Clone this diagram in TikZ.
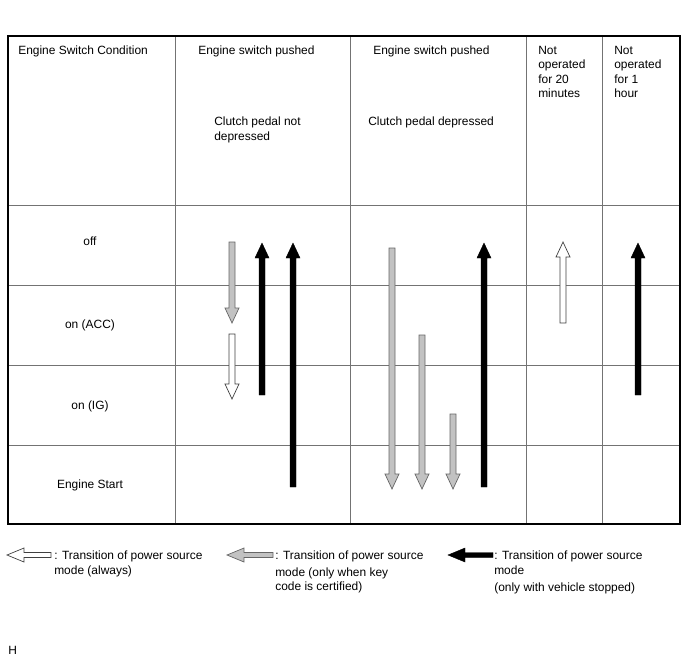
\documentclass[tikz,border=0pt]{standalone}
\usepackage{fontspec}
\setmainfont{Liberation Sans}
\usetikzlibrary{calc}
\definecolor{tablegray}{gray}{0.45}
\definecolor{keygray}{gray}{0.76}
\definecolor{keyedge}{gray}{0.40}

% vertical block arrow: style, x, y of tail, y of tip
\newcommand{\modearrow}[4]{%
  \pgfmathsetmacro{\hb}{#4-15*sign(#4-#3)}
  \draw[#1] (#2-3,#3) -- (#2-3,\hb) -- (#2-7,\hb) -- (#2,#4) -- (#2+7,\hb)
    -- (#2+3,\hb) -- (#2+3,#3) -- cycle;}
% horizontal block arrow for the key: style, y, x of tail, x of tip
\newcommand{\keyarrow}[4]{%
  \pgfmathsetmacro{\hb}{#4-17*sign(#4-#3)}
  \draw[#1] (#3,#2-2.5) -- (\hb,#2-2.5) -- (\hb,#2-7) -- (#4,#2) -- (\hb,#2+7)
    -- (\hb,#2+2.5) -- (#3,#2+2.5) -- cycle;}

\begin{document}
\begin{tikzpicture}[x=0.025cm,y=-0.025cm,
  txt/.style={font=\fontsize{8.5}{10.4}\selectfont,inner sep=0pt,align=left},
  always/.style={draw=black!75,fill=white,line width=0.5pt},
  keycode/.style={draw=keyedge,fill=keygray,line width=0.5pt},
  stopped/.style={draw=black,fill=black,line width=0.3pt}]
  \useasboundingbox (0,0) rectangle (688,658);

  % table
  \foreach \xx in {175,350,526,602}
    \draw[tablegray,line width=0.6pt] (\xx,36) -- (\xx,524);
  \foreach \yy in {205,285,365,445}
    \draw[tablegray,line width=0.6pt] (8,\yy) -- (680,\yy);
  \draw[black,line width=1.2pt] (8,36) rectangle (680,524);

  % headings
  \node[txt,anchor=base west] (hdcond) at (18,54) {Engine Switch Condition};
  \node[txt,anchor=base west] (hdpushA) at (198,54) {Engine switch pushed};
  \node[txt,anchor=north west] (clutchA) at (214,116.5) {Clutch pedal not\\depressed};
  \node[txt,anchor=base west] (hdpushB) at (373,54) {Engine switch pushed};
  \node[txt,anchor=base west] (clutchB) at (368,125) {Clutch pedal depressed};
  \node[txt,anchor=north west] (idle20) at (538,45.5) {Not\\operated\\for 20\\minutes};
  \node[txt,anchor=north west] (idle60) at (614,45.5) {Not\\operated\\for 1\\hour};

  % conditions
  \node[txt,anchor=base] (off) at (90,245) {off};
  \node[txt,anchor=base] (acc) at (90,328) {on (ACC)};
  \node[txt,anchor=base] (ign) at (90,409) {on (IG)};
  \node[txt,anchor=base] (start) at (90,488) {Engine Start};

  % transitions, clutch pedal not depressed
  \modearrow{keycode}{232}{242}{323}
  \modearrow{always}{232}{334}{399}
  \modearrow{stopped}{262}{395}{243}
  \modearrow{stopped}{293}{487}{243}
  % transitions, clutch pedal depressed
  \modearrow{keycode}{392}{248}{489}
  \modearrow{keycode}{422}{335}{489}
  \modearrow{keycode}{453}{414}{489}
  \modearrow{stopped}{484}{487}{243}
  % not operated
  \modearrow{always}{563}{323}{242}
  \modearrow{stopped}{638}{395}{243}

  % key
  \keyarrow{always}{555}{51}{7}
  \node[txt,anchor=north west] (keyA) at (54,550.5) {: Transition of power source\\mode (always)};
  \keyarrow{keycode}{555}{273}{227}
  \node[txt,anchor=north west] (keyB) at (275,550.5) {: Transition of power source\\[1.5pt]mode (only when key\\code is certified)};
  \keyarrow{stopped}{555}{493}{448}
  \node[txt,anchor=north west] (keyC) at (494,550.5) {: Transition of power source\\mode\\[2pt](only with vehicle stopped)};

  \node[txt,anchor=base west] (fig) at (8,654) {H};
\end{tikzpicture}
\end{document}
